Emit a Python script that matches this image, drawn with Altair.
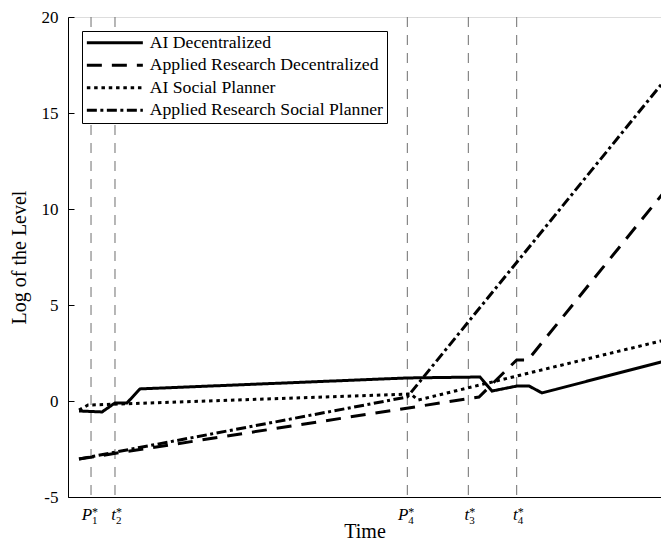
import altair as alt
import pandas as pd

SERIES = [
    "AI Decentralized",
    "Applied Research Decentralized",
    "AI Social Planner",
    "Applied Research Social Planner",
]

# values (time axis scaled 0..100)
ai_dec_t = [1.83, 5.66, 7.82, 9.82, 11.98, 56.41, 68.55, 70.55, 74.71, 76.71, 78.87, 100]
ai_dec_v = [-0.52, -0.57, -0.10, -0.10, 0.63, 1.20, 1.25, 0.52, 0.78, 0.78, 0.42, 2.14]

ar_dec_t = [1.83, 68.39, 74.66, 76.54, 100]
ar_dec_v = [-3.02, 0.21, 2.14, 2.14, 11.2]

ai_sp_t = [1.83, 3.33, 56.46, 57.07, 58.24, 100]
ai_sp_v = [-0.47, -0.21, 0.36, 0.36, 0.05, 3.23]

ar_sp_t = [1.83, 56.46, 100]
ar_sp_v = [-3.02, 0.21, 16.98]

mark_t = [3.83, 7.82, 56.46, 66.61, 74.66]
mark_letter = ["P", "t", "P", "t", "t"]
mark_sub = ["1", "2", "4", "3", "4"]

YTICKS = [-5, 0, 5, 10, 15, 20]

rows = []
for name, ts, vs in [
    (SERIES[0], ai_dec_t, ai_dec_v),
    (SERIES[1], ar_dec_t, ar_dec_v),
    (SERIES[2], ai_sp_t, ai_sp_v),
    (SERIES[3], ar_sp_t, ar_sp_v),
]:
    for i, (t, v) in enumerate(zip(ts, vs)):
        rows.append({"series": name, "time": t, "value": v, "idx": i})
df = pd.DataFrame(rows)

marks_df = pd.DataFrame({"time": mark_t, "letter": mark_letter, "sub": mark_sub,
                         "star": ["*"] * len(mark_t)})
ytick_df = pd.DataFrame({"v": YTICKS})

FONT = "Liberation Serif"

# visible part of the time axis (the figure is cut at the window's right edge)
x_scale = alt.Scale(domain=[0, 98.67], nice=False, zero=False)
y_scale = alt.Scale(domain=[-5, 20], nice=False, zero=False)

x_axis = alt.Axis(title="Time", ticks=False, labels=False, grid=False,
                  domainColor="black", domainWidth=1, titleFont=FONT,
                  titleFontSize=20, titleFontWeight="normal", titleColor="black",
                  titlePadding=24)
x_enc = alt.X("time:Q", scale=x_scale, axis=x_axis)

dash_range = [[1, 0], [15, 10], [3.5, 3.8], [10, 3.5, 3, 3.5]]

vlines = alt.Chart(marks_df).mark_rule(color="#6e6e6e", strokeWidth=1,
                                       strokeDash=[10, 8]).encode(x=x_enc)

lines = alt.Chart(df).mark_line(color="black", strokeWidth=3, strokeCap="butt",
                                clip=True).encode(
    x=x_enc,
    y=alt.Y("value:Q", scale=y_scale,
            axis=alt.Axis(title="Log of the Level", values=YTICKS,
                          labelExpr="'' + datum.value", ticks=False,
                          labelPadding=10, grid=False, domainColor="black",
                          domainWidth=1, labelFont=FONT, labelFontSize=17,
                          labelColor="black", labelFlush=False, labelOverlap=False,
                          titleFont=FONT, titleFontSize=20,
                          titleFontWeight="normal", titleColor="black",
                          titleX=-49, titleY=240, titleAngle=270,
                          titleBaseline="middle", titleAlign="center")),
    strokeDash=alt.StrokeDash(
        "series:N",
        scale=alt.Scale(domain=SERIES, range=dash_range),
        legend=alt.Legend(orient="none", legendX=14, legendY=14, title=None,
                          symbolType="M-1,0H7", symbolSize=196,
                          symbolStrokeWidth=3, symbolStrokeColor="black",
                          labelFont=FONT, labelFontSize=17.7, labelColor="black",
                          labelOffset=47, labelLimit=400, padding=3,
                          rowPadding=3.5, strokeColor="black", fillColor="white"),
    ),
    order=alt.Order("idx:Q"),
)

yticks = alt.Chart(ytick_df).mark_point(opacity=0).encode(
    y=alt.Y("v:Q", scale=alt.Scale(domain=[-5, 20], nice=False, zero=False),
            axis=alt.Axis(orient="left", offset=-6, tickSize=6, domain=False,
                          labels=False, title=None, grid=False, values=YTICKS,
                          tickColor="black", tickWidth=1))
)

letters = alt.Chart(marks_df).mark_text(font=FONT, fontStyle="italic", fontSize=17,
                                        align="right", baseline="alphabetic",
                                        dx=1, color="black").encode(
    x=x_enc, y=alt.value(503), text="letter:N")
subs = alt.Chart(marks_df).mark_text(font=FONT, fontSize=11, align="left",
                                     baseline="alphabetic", dx=1,
                                     color="black").encode(
    x=x_enc, y=alt.value(507), text="sub:N")
stars = alt.Chart(marks_df).mark_text(font=FONT, fontSize=12, align="left",
                                      baseline="alphabetic", dx=1,
                                      color="black").encode(
    x=x_enc, y=alt.value(499), text="star:N")

chart = alt.layer(vlines, lines, yticks, letters, subs, stars).resolve_scale(
    y="independent"
).properties(
    width=593, height=480,
    padding={"left": 60, "top": 9, "right": 0, "bottom": 45},
    autosize=alt.AutoSizeParams(type="none"),
).configure_view(stroke=None).configure(font=FONT)

chart.save("out.html", embed_options={"renderer": "svg", "actions": False})
